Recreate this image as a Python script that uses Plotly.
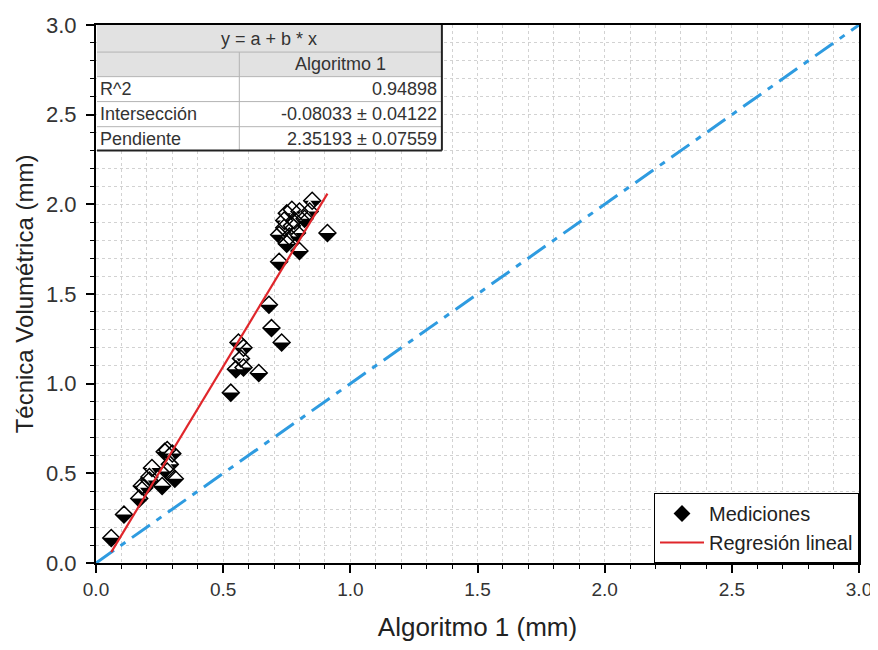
import plotly.graph_objects as go

# ---------------- data ----------------
alg1 = [0.85, 0.77, 0.80, 0.84, 0.75, 0.74, 0.78, 0.82, 0.74, 0.77, 0.72, 0.76, 0.79, 0.91, 0.75, 0.80, 0.72,
        0.68, 0.69, 0.73, 0.56, 0.58, 0.57, 0.55, 0.58, 0.64, 0.53,
        0.06, 0.11, 0.17, 0.19, 0.18, 0.21, 0.21, 0.22, 0.26, 0.28, 0.28, 0.27, 0.30, 0.31, 0.29]
tecnica = [2.02, 1.97, 1.96, 1.96, 1.95, 1.91, 1.91, 1.92, 1.87, 1.88, 1.83, 1.82, 1.84, 1.84, 1.78, 1.74, 1.68,
           1.44, 1.31, 1.23, 1.23, 1.20, 1.14, 1.08, 1.09, 1.06, 0.95,
           0.14, 0.27, 0.36, 0.42, 0.43, 0.46, 0.48, 0.53, 0.43, 0.51, 0.63, 0.62, 0.61, 0.47, 0.55]

intercept = -0.08033
slope = 2.35193
identity_line = [0.0, 3.0]

table_title = "y = a + b * x"
table_col = "Algoritmo 1"
table_labels = ["R^2", "Intersección", "Pendiente"]
table_values = ["0.94898", "-0.08033 ± 0.04122", "2.35193 ± 0.07559"]

x_title = "Algoritmo 1 (mm)"
y_title = "Técnica Volumétrica (mm)"

FONT = "Liberation Sans, Arial, sans-serif"

fig = go.Figure()

# y = x reference line
fig.add_trace(go.Scatter(
    x=identity_line, y=identity_line, mode="lines", showlegend=False, hoverinfo="skip",
    line=dict(color="#2E9BE0", width=3, dash="22px,8px,6px,8px")))

# half-filled diamonds: black diamond, white upper half, black outline
MS = 13
fig.add_trace(go.Scatter(
    x=alg1, y=tecnica, mode="markers", name="Mediciones",
    marker=dict(symbol="diamond", size=MS, color="black", line=dict(width=0))))
fig.add_trace(go.Scatter(
    x=alg1, y=tecnica, mode="markers", showlegend=False, hoverinfo="skip",
    marker=dict(symbol="triangle-down", size=15.5, color="white", angle=180, standoff=3.9,
                line=dict(width=0))))
fig.add_trace(go.Scatter(
    x=alg1, y=tecnica, mode="markers", showlegend=False, hoverinfo="skip",
    marker=dict(symbol="diamond-open", size=MS, color="black", line=dict(width=1.5, color="black"))))

# regression line
xfit = [min(alg1), max(alg1)]
yfit = [intercept + slope * v for v in xfit]
fig.add_trace(go.Scatter(
    x=xfit, y=yfit, mode="lines", name="Regresión lineal",
    line=dict(color="#E0262B", width=2.2)))

# ---------------- table (shapes + annotations) ----------------
tx0, tx1, tcol = 0.004, 1.36, 0.5635
rows = [3.0, 2.849, 2.712, 2.573, 2.433, 2.300]
shapes = []
shapes.append(dict(type="rect", xref="x", yref="y", x0=tx0, x1=tx1, y0=rows[2], y1=rows[0],
                   fillcolor="#E2E2E2", line=dict(width=0), layer="above"))
shapes.append(dict(type="rect", xref="x", yref="y", x0=tx0, x1=tx1, y0=rows[5], y1=rows[2],
                   fillcolor="white", line=dict(width=0), layer="above"))
for yy in rows[1:5]:
    shapes.append(dict(type="line", xref="x", yref="y", x0=tx0, x1=tx1, y0=yy, y1=yy,
                       line=dict(color="#B4B4B4", width=1), layer="above"))
shapes.append(dict(type="line", xref="x", yref="y", x0=tcol, x1=tcol, y0=rows[5], y1=rows[1],
                   line=dict(color="#B4B4B4", width=1), layer="above"))
shapes.append(dict(type="line", xref="x", yref="y", x0=tx0, x1=tx1, y0=rows[5], y1=rows[5],
                   line=dict(color="#222", width=2), layer="above"))
shapes.append(dict(type="line", xref="x", yref="y", x0=tx1, x1=tx1, y0=rows[5], y1=rows[0],
                   line=dict(color="#222", width=2), layer="above"))

ann = []
tfont = dict(family=FONT, size=18, color="#333")
ann.append(dict(x=(tx0 + tx1) / 2, y=(rows[0] + rows[1]) / 2, xref="x", yref="y", text=table_title,
                showarrow=False, xanchor="center", yanchor="middle", font=tfont))
ann.append(dict(x=(tcol + tx1) / 2, y=(rows[1] + rows[2]) / 2, xref="x", yref="y", text=table_col,
                showarrow=False, xanchor="center", yanchor="middle", font=tfont))
for i, (lab, val) in enumerate(zip(table_labels, table_values)):
    yc = (rows[2 + i] + rows[3 + i]) / 2
    ann.append(dict(x=0.008, y=yc, xref="x", yref="y", text=lab, showarrow=False,
                    xanchor="left", yanchor="middle", font=tfont))
    ann.append(dict(x=tx1 - 0.012, y=yc, xref="x", yref="y", text=val, showarrow=False,
                    xanchor="right", yanchor="middle", font=tfont))

grid_style = dict(gridcolor="#D2D2D2", griddash="3px,3px", gridwidth=1)


def axis_common(tick_size):
    return dict(
        range=[0, 3], dtick=0.5, tick0=0, tickformat=".1f", automargin=False,
        ticklabeloverflow="allow",
        showgrid=True, **grid_style,
        ticks="outside", ticklen=8, tickwidth=1.5, tickcolor="black",
        showline=True, linecolor="black", linewidth=2, mirror=True, zeroline=False,
        tickfont=dict(family=FONT, size=tick_size, color="#333"),
        minor=dict(dtick=0.1, showgrid=True, ticks="outside", ticklen=4, tickwidth=1.2,
                   tickcolor="black", **grid_style),
    )


fig.update_layout(
    width=870, height=634,
    margin=dict(l=88, r=19, t=17, b=79),
    paper_bgcolor="white", plot_bgcolor="white",
    xaxis=dict(**axis_common(19),
               title=dict(text=x_title, font=dict(family=FONT, size=26, color="#222"), standoff=30)),
    yaxis=dict(**axis_common(22), ticklabelstandoff=5,
               title=dict(text=y_title, font=dict(family=FONT, size=24, color="#222"), standoff=6)),
    legend=dict(x=1, xanchor="right", y=0, yanchor="bottom", bgcolor="white",
                bordercolor="black", borderwidth=1, font=dict(family=FONT, size=20, color="#222"),
                tracegroupgap=0, itemwidth=44),
    shapes=shapes, annotations=ann,
    showlegend=True,
)

fig.write_html("out.html")
